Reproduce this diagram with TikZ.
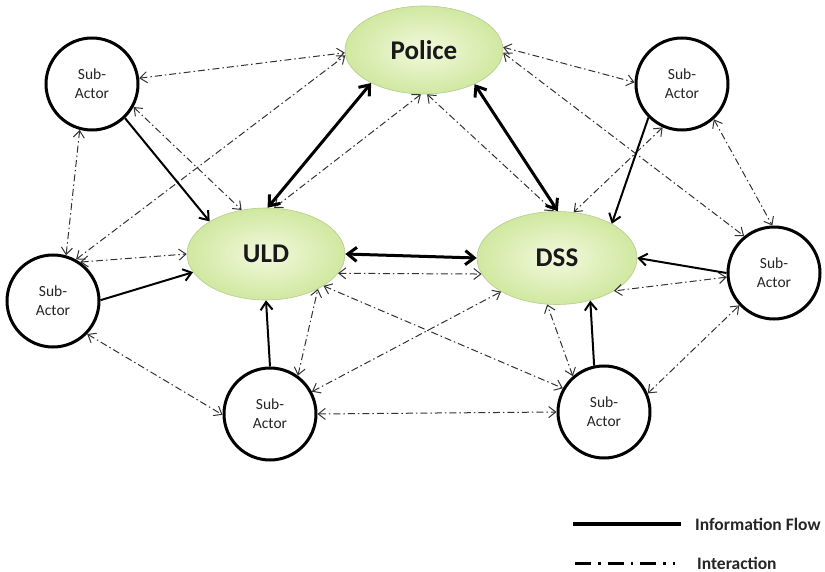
\documentclass[tikz,border=0pt]{standalone}
\usepackage{fontspec}
\setmainfont{Carlito}
\usetikzlibrary{shapes.geometric,arrows.meta}
\definecolor{ellin}{RGB}{242,249,222}
\definecolor{ellout}{RGB}{208,232,160}
\definecolor{elldraw}{RGB}{180,205,140}
\begin{document}
\begin{tikzpicture}[x=1pt,y=-1pt,
  actor/.style={ellipse, draw=elldraw, line width=0.6pt, inner color=ellin, outer color=ellout, minimum width=158pt, minimum height=88pt, inner sep=0pt, font=\fontsize{27}{30}\selectfont\bfseries, text=black!90},
  subactor/.style={circle, draw=black, line width=3pt, fill=white, minimum size=92pt, inner sep=0pt, align=center, font=\fontsize{15.5}{19}\selectfont, text=black!85},
  flow/.style={line width=2pt, -{Straight Barb[length=8pt,width=12pt]}},
  bi/.style={line width=3pt, {Straight Barb[length=9pt,width=14pt]}-{Straight Barb[length=9pt,width=14pt]}},
  inter/.style={black!80, line width=1pt, dash pattern=on 7pt off 3pt on 1.5pt off 3pt, {Straight Barb[length=7pt,width=11pt]}-{Straight Barb[length=7pt,width=11pt]}},
  legtext/.style={anchor=west, inner sep=0pt, font=\fontsize{17.5}{20}\selectfont\bfseries, text=black!85}
]
\path[use as bounding box, fill=white] (0,0) rectangle (825,572);

% main actors
\node[actor] (police) at (424,50) {Police};
\node[actor, minimum height=92pt] (uld) at (266,254) {ULD};
\node[actor, minimum width=160pt, minimum height=93pt] (dss) at (557,258) {DSS};

% sub-actors
\node[subactor] (sa1) at (92,84) {Sub-\\Actor};
\node[subactor] (sa2) at (682,84) {Sub-\\Actor};
\node[subactor] (sa3) at (53,301) {Sub-\\Actor};
\node[subactor] (sa4) at (270,414) {Sub-\\Actor};
\node[subactor] (sa5) at (604,412) {Sub-\\Actor};
\node[subactor] (sa6) at (774,273) {Sub-\\Actor};

% interactions (dash-dot)
\draw[inter] (sa1.7) -- (police.182);
\draw[inter] (sa3.61) -- (police.184);
\draw[inter] (sa1.331) -- (uld.119);
\draw[inter] (sa1.255) -- (sa3.74);
\draw[inter] (sa3.55) -- (uld.180);
\draw[inter] (sa3.316) -- (sa4.181);
\draw[inter] (sa4.54) -- (uld.326);
\draw[inter] (uld.331) -- (sa5.150);
\draw[inter] (sa4.28) -- (dss.211);
\draw[inter] (sa4.0) -- (sa5.180);
\draw[inter] (uld.345) -- (dss.192);
\draw[inter] (sa5.131) -- (dss.258);
\draw[inter] (sa5.23) -- (sa6.223);
\draw[inter] (sa6.185) -- (dss.330);
\draw[inter] (sa2.312) -- (sa6.92);
\draw[inter] (police.358) -- (sa6.129);
\draw[inter] (police.2) -- (sa2.178);
\draw[inter] (sa2.246) -- (dss.70);
\draw[inter] (police.266) -- (uld.80);
\draw[inter] (police.274) -- (dss.94);

% information flow (solid)
\draw[bi] (police.212) -- (uld.88);
\draw[bi] (police.326) -- (dss.89);
\draw[bi] (uld.east) -- (dss.west);
\draw[flow] (sa1.314) -- (uld.150);
\draw[flow] (sa2.225) -- (dss.32);
\draw[flow] (sa3.1) -- (uld.194);
\draw[flow] (sa4.north) -- (uld.south);
\draw[flow] (sa5.102) -- (dss.308);
\draw[flow] (sa6.west) -- (dss.east);

% legend
\coordinate (l1a) at (573,524);
\coordinate (l1b) at (681,524);
\coordinate (l2a) at (575,563);
\coordinate (l2b) at (690,563);
\draw[line width=4pt] (l1a) -- (l1b);
\node[legtext] (l1t) at (695,524) {Information Flow};
\draw[line width=3pt, dash pattern=on 16pt off 7pt on 2.5pt off 7pt on 16pt off 7pt on 2.5pt off 7pt on 16pt off 7pt on 2.5pt off 7pt on 2.5pt off 20pt] (l2a) -- (l2b);
\node[legtext] (l2t) at (697,563) {Interaction};
\end{tikzpicture}
\end{document}
